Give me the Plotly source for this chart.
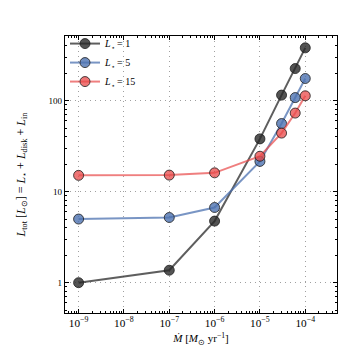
import plotly.graph_objects as go

# Темп аккреции, M_sun / yr
mdot = [1e-9, 1e-7, 1e-6, 1e-5, 3e-5, 6e-5, 1e-4]

# L_tot для разных L_star
ltot_1 = [1.0, 1.37, 4.75, 38, 115, 225, 380]
ltot_5 = [5.0, 5.2, 6.7, 21.5, 56, 108, 175]
ltot_15 = [15.1, 15.2, 16.1, 24.5, 44, 73, 113]

series = [
    ("<i>L</i><sub>⋆</sub> = 1", ltot_1, "rgba(40,40,40,0.75)", "rgba(40,40,40,0.8)"),
    ("<i>L</i><sub>⋆</sub> = 5", ltot_5, "rgba(76,114,176,0.75)", "rgba(76,114,176,0.8)"),
    ("<i>L</i><sub>⋆</sub> = 15", ltot_15, "rgba(232,72,72,0.7)", "rgba(232,72,72,0.75)"),
]

FONT = "Liberation Serif"

fig = go.Figure()
for name, y, lc, mc in series:
    fig.add_trace(go.Scatter(
        x=mdot, y=y, name=name,
        mode="lines+markers",
        line=dict(color=lc, width=2),
        marker=dict(color=mc, size=10, line=dict(color="rgba(30,30,30,0.8)", width=1)),
    ))

axis_common = dict(
    type="log",
    showline=True, linecolor="black", linewidth=1.2,
    mirror="allticks",
    ticks="inside", ticklen=4, tickcolor="black",
    showgrid=True, gridcolor="rgba(150,150,150,0.9)", griddash="1px,4px", gridwidth=1,
    zeroline=False,
    minor=dict(ticks="inside", ticklen=2, tickcolor="black", showgrid=False),
    tickfont=dict(family=FONT, size=9, color="black"),
)

fig.update_xaxes(
    **axis_common,
    range=[-9.3, -3.3],
    tickmode="linear", tick0=0, dtick=1,
    exponentformat="power", showexponent="all",
    title=dict(text="<i>Ṁ</i> [<i>M</i><sub>⊙</sub> yr<sup>−1</sup>]",
               font=dict(family=FONT, size=11, color="black"), standoff=6),
)
fig.update_yaxes(
    **axis_common,
    range=[-0.333, 2.71],
    tickmode="linear", tick0=0, dtick=1,
    title=dict(text="<i>L</i><sub>tot</sub> [<i>L</i><sub>⊙</sub>] = <i>L</i><sub>⋆</sub> + <i>L</i><sub>disk</sub> + <i>L</i><sub>in</sub>",
               font=dict(family=FONT, size=12, color="black"), standoff=20),
)

fig.update_layout(
    width=347, height=347,
    margin=dict(l=52, r=18, t=28, b=36),
    paper_bgcolor="white", plot_bgcolor="white",
    font=dict(family=FONT, size=10, color="black"),
    legend=dict(x=0.0, y=1.025, xanchor="left", yanchor="top",
                bgcolor="rgba(255,255,255,0)", borderwidth=0,
                font=dict(family=FONT, size=10), itemwidth=30,
                tracegroupgap=0),
    showlegend=True,
)

fig.write_html("out.html")
